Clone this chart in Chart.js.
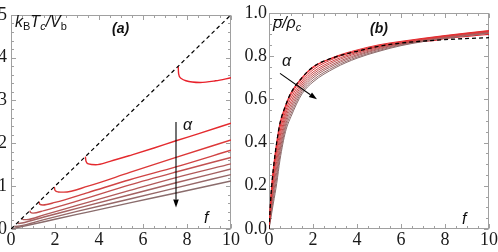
<!DOCTYPE html>
<html>
<head>
<meta charset="utf-8">
<script src="https://cdn.jsdelivr.net/npm/chart.js@4"></script>
<style>
body { margin: 0; background: #fff; }
#wrap { position: relative; width: 498px; height: 252px; overflow: hidden; }
canvas { position: absolute; top: 0; }
.lbl { position: absolute; font-family: "Liberation Sans", Arial, sans-serif; font-size: 16px; line-height: 1; color: #111; white-space: nowrap; font-style: italic; }
.lbl .s { font-size: 11px; position: relative; top: 3px; }
.bold { font-weight: bold; font-size: 14px; }
.bar { position: absolute; height: 1px; background: #111; }
</style>
</head>
<body>
<div id="wrap">
  <canvas id="chartA" width="248" height="252" style="left:0"></canvas>
  <canvas id="chartB" width="258" height="252" style="left:240px"></canvas>
  <span class="lbl" style="left:15px;top:13.5px">k<span class="s" style="font-style:normal">B</span>T<span class="s">c</span>/V<span class="s" style="font-style:normal">b</span></span>
  <span class="lbl bold" style="left:112px;top:21px">(a)</span>
  <span class="lbl" style="left:183px;top:116.5px">α</span>
  <span class="lbl" style="left:204px;top:209.5px">f</span>
  <span class="lbl" style="left:273px;top:14.5px">ρ/ρ<span class="s">c</span></span>
  <div class="bar" style="left:274px;top:19px;width:9px"></div>
  <span class="lbl bold" style="left:370px;top:21px">(b)</span>
  <span class="lbl" style="left:282px;top:52.5px">α</span>
  <span class="lbl" style="left:462px;top:210.5px">f</span>
</div>
<script>
// ---- panel (a): k_B T_c / V_b against f ----
const xTicksA = [0, 2, 4, 6, 8, 10];
const yTicksA = [0, 1, 2, 3, 4, 5];
const uniformA = [[0, 0], [10, 5]];
const tcA1 = [[7.6, 3.8], [7.62, 3.62], [7.72, 3.52], [7.95, 3.46], [8.6, 3.42], [9.3, 3.46], [10, 3.53]];
const tcA2 = [[3.38, 1.69], [3.41, 1.58], [3.52, 1.52], [3.85, 1.5], [4.5, 1.58], [5.5, 1.73], [6.5, 1.89], [7.5, 2.06], [8.5, 2.22], [10, 2.47]];
const tcA3 = [[1.97, 0.985], [2.0, 0.9], [2.15, 0.865], [2.4, 0.86], [3.5, 1.0], [5.4, 1.32], [7.5, 1.67], [10, 2.08]];
const tcA4 = [[1.28, 0.64], [1.3, 0.58], [1.45, 0.56], [2, 0.62], [3.5, 0.85], [5.4, 1.15], [7.5, 1.45], [10, 1.84]];
const tcA5 = [[0.86, 0.43], [0.88, 0.39], [1.0, 0.37], [1.5, 0.43], [3, 0.65], [5.4, 1.03], [7.5, 1.33], [10, 1.67]];
const tcA6 = [[0.5, 0.25], [0.55, 0.22], [0.7, 0.22], [1.5, 0.33], [3, 0.55], [5.4, 0.9], [7.5, 1.2], [10, 1.52]];
const tcA7 = [[0.3, 0.15], [0.35, 0.13], [0.5, 0.14], [1.5, 0.28], [3, 0.48], [5.4, 0.8], [7.5, 1.08], [10, 1.4]];
const tcA8 = [[0.15, 0.075], [0.2, 0.06], [0.4, 0.07], [1.5, 0.22], [3, 0.41], [5.4, 0.7], [7.5, 0.96], [10, 1.27]];
const tcA9 = [[0, 0], [1.5, 0.17], [3, 0.34], [5.4, 0.61], [7.5, 0.84], [10, 1.12]];

// ---- panel (b): mean density against f ----
const xTicksB = [0, 2, 4, 6, 8, 10];
const yTicksB = [0, 0.2, 0.4, 0.6, 0.8, 1.0];
const fGridB = [0, 0.1, 0.2, 0.35, 0.5, 0.75, 1, 1.5, 2, 3, 4, 5, 6, 8, 10];
const rhoDashed = [0, 0.17, 0.28, 0.4, 0.49, 0.57, 0.63, 0.7, 0.75, 0.795, 0.822, 0.845, 0.86, 0.876, 0.885];
const fB1 = [0, 0.1, 0.2, 0.35, 0.5, 0.75, 1, 1.5, 2, 3, 4, 5, 6, 7.6, 8, 9, 10];
const rhoB1 = [0, 0.17, 0.28, 0.4, 0.49, 0.57, 0.63, 0.7, 0.75, 0.795, 0.822, 0.845, 0.86, 0.873, 0.881, 0.891, 0.9];
const rhoB2 = [0, 0.16, 0.27, 0.39, 0.47, 0.56, 0.62, 0.695, 0.745, 0.797, 0.828, 0.852, 0.868, 0.895, 0.918];
const rhoB3 = [0, 0.146, 0.249, 0.364, 0.449, 0.544, 0.606, 0.685, 0.736, 0.79, 0.823, 0.848, 0.865, 0.893, 0.916];
const rhoB4 = [0, 0.131, 0.227, 0.339, 0.427, 0.529, 0.591, 0.675, 0.726, 0.782, 0.817, 0.843, 0.862, 0.891, 0.914];
const rhoB5 = [0, 0.117, 0.206, 0.313, 0.406, 0.513, 0.577, 0.665, 0.717, 0.775, 0.812, 0.839, 0.859, 0.889, 0.912];
const rhoB6 = [0, 0.103, 0.184, 0.287, 0.384, 0.497, 0.563, 0.655, 0.708, 0.767, 0.806, 0.835, 0.857, 0.888, 0.911];
const rhoB7 = [0, 0.089, 0.163, 0.261, 0.363, 0.481, 0.549, 0.645, 0.699, 0.76, 0.801, 0.831, 0.854, 0.886, 0.909];
const rhoB8 = [0, 0.074, 0.141, 0.236, 0.341, 0.466, 0.534, 0.635, 0.689, 0.752, 0.795, 0.826, 0.851, 0.884, 0.907];
const rhoB9 = [0, 0.06, 0.12, 0.21, 0.32, 0.45, 0.52, 0.625, 0.68, 0.745, 0.79, 0.822, 0.848, 0.882, 0.905];

// red (small alpha) to greyish brown (large alpha)
const curveColors = ['#e8202a', '#e42a2e', '#dc3838', '#d04444', '#c25050', '#b25a5a', '#a46262', '#966868', '#8a6c6c'];

const tickFont = { family: '"Liberation Serif", serif', size: 18 };
Chart.defaults.font.family = tickFont.family;
Chart.defaults.font.size = 18;
Chart.defaults.color = '#1a1a1a';

// grey frame with inward ticks, Mathematica style
const framePlugin = {
  id: 'frame',
  beforeDatasetsDraw(chart, args, opts) {
    const { ctx, chartArea: a, scales: { x, y } } = chart;
    const L = Math.round(a.left) + 0.5, R = Math.round(a.right) - 0.5;
    const T = Math.round(a.top) + 0.5, B = Math.round(a.bottom) - 0.5;
    ctx.save();
    ctx.strokeStyle = '#a0a0a0';
    ctx.lineWidth = 1;
    ctx.strokeRect(L, T, R - L, B - T);
    ctx.beginPath();
    const mark = (scale, minor, major, horiz) => {
      const n = Math.round((scale.max - scale.min) / minor);
      for (let i = 0; i <= n; i++) {
        const v = scale.min + i * minor;
        const big = Math.abs(v / major - Math.round(v / major)) < 1e-6;
        const len = big ? 4.5 : 2.5;
        const p = Math.round(scale.getPixelForValue(v)) + 0.5;
        if (horiz) {
          ctx.moveTo(p, B); ctx.lineTo(p, B - len);
          ctx.moveTo(p, T); ctx.lineTo(p, T + len);
        } else {
          ctx.moveTo(L, p); ctx.lineTo(L + len, p);
          ctx.moveTo(R, p); ctx.lineTo(R - len, p);
        }
      }
    };
    mark(x, opts.xMinor, opts.xMajor, true);
    mark(y, opts.yMinor, opts.yMajor, false);
    ctx.stroke();
    ctx.restore();
  },
  afterDatasetsDraw(chart, args, opts) {
    if (!opts.arrow) return;
    const { ctx, scales: { x, y } } = chart;
    const [x0, y0] = opts.arrow.from, [x1, y1] = opts.arrow.to;
    const px0 = x.getPixelForValue(x0), py0 = y.getPixelForValue(y0);
    const px1 = x.getPixelForValue(x1), py1 = y.getPixelForValue(y1);
    const ang = Math.atan2(py1 - py0, px1 - px0);
    const hl = 8, hw = 2.8;
    ctx.save();
    ctx.strokeStyle = '#000';
    ctx.fillStyle = '#000';
    ctx.lineWidth = 1.1;
    ctx.beginPath();
    ctx.moveTo(px0, py0);
    ctx.lineTo(px1 - hl * Math.cos(ang), py1 - hl * Math.sin(ang));
    ctx.stroke();
    ctx.beginPath();
    ctx.moveTo(px1, py1);
    ctx.lineTo(px1 - hl * Math.cos(ang) + hw * Math.sin(ang), py1 - hl * Math.sin(ang) - hw * Math.cos(ang));
    ctx.lineTo(px1 - hl * Math.cos(ang) - hw * Math.sin(ang), py1 - hl * Math.sin(ang) + hw * Math.cos(ang));
    ctx.closePath();
    ctx.fill();
    ctx.restore();
  }
};

const pts = arr => arr.map(([x, y]) => ({ x, y }));
const zipXY = (xs, ys) => xs.map((x, i) => ({ x, y: ys[i] }));

function axis(min, max, tickList, fmt, fit, pad) {
  return {
    type: 'linear', min, max,
    grid: { display: false, drawTicks: false, tickLength: 0 },
    border: { display: false },
    ticks: { font: tickFont, padding: pad, maxRotation: 0, autoSkip: false, callback: fmt },
    afterBuildTicks: s => { s.ticks = tickList.map(v => ({ value: v })); },
    afterFit: fit
  };
}

function baseOptions(padRight, yWidth, yPad, xT, yT, yFmt, frame) {
  return {
    animation: false,
    responsive: false,
    layout: { padding: { top: 10, right: padRight, left: 0, bottom: 0 } },
    plugins: { legend: { display: false }, tooltip: { enabled: false }, frame },
    scales: {
      x: axis(0, 10, xT, v => String(v), s => { s.height = 23; }, 0),
      y: axis(yT[0], yT[yT.length - 1], yT, yFmt, s => { s.width = yWidth; }, yPad)
    }
  };
}

const tcCurvesA = [tcA1, tcA2, tcA3, tcA4, tcA5, tcA6, tcA7, tcA8, tcA9];
new Chart(document.getElementById('chartA'), {
  type: 'line',
  data: {
    datasets: [
      { data: pts(uniformA), borderColor: '#000', borderWidth: 1.2, borderDash: [4, 3], pointRadius: 0 },
      ...tcCurvesA.map((c, i) => ({
        data: pts(c), borderColor: curveColors[i], borderWidth: 1.4, pointRadius: 0, cubicInterpolationMode: 'monotone'
      }))
    ]
  },
  options: baseOptions(17, 11, 4, xTicksA, yTicksA, v => String(v),
    { xMinor: 0.5, xMajor: 2, yMinor: 0.2, yMajor: 1, arrow: { from: [7.5, 2.5], to: [7.5, 0.5] } }),
  plugins: [framePlugin]
});

const rhoCurvesB = [rhoB2, rhoB3, rhoB4, rhoB5, rhoB6, rhoB7, rhoB8, rhoB9];
new Chart(document.getElementById('chartB'), {
  type: 'line',
  data: {
    datasets: [
      { data: zipXY(fGridB, rhoDashed), borderColor: '#000', borderWidth: 1.3, borderDash: [4, 3], pointRadius: 0, cubicInterpolationMode: 'monotone' },
      ...rhoCurvesB.map((c, i) => ({
        data: zipXY(fGridB, c), borderColor: curveColors[i + 1], borderWidth: 1, pointRadius: 0, cubicInterpolationMode: 'monotone'
      })),
      { data: zipXY(fB1, rhoB1), borderColor: curveColors[0], borderWidth: 1.1, pointRadius: 0, cubicInterpolationMode: 'monotone' }
    ]
  },
  options: baseOptions(9, 29, 2, xTicksB, yTicksB, v => v.toFixed(1),
    { xMinor: 0.5, xMajor: 2, yMinor: 0.05, yMajor: 0.2, arrow: { from: [0.5, 0.72], to: [2.18, 0.6] } }),
  plugins: [framePlugin]
});
</script>
</body>
</html>
